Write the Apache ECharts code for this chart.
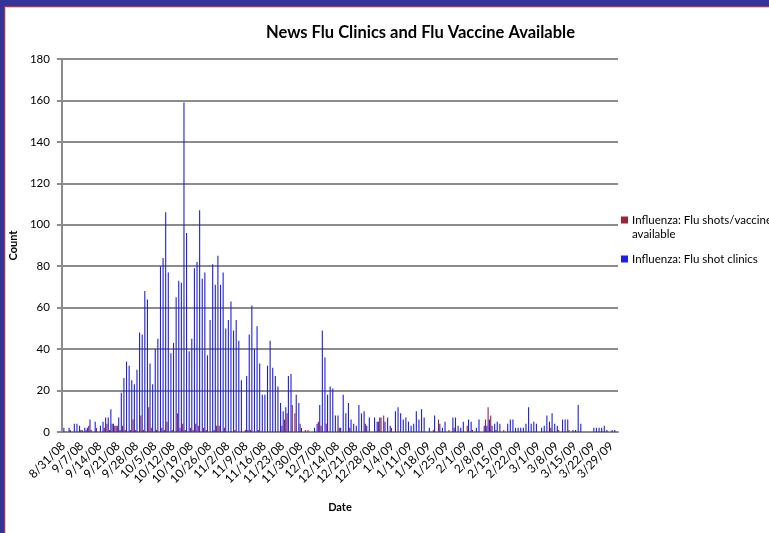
<!DOCTYPE html>
<html>
<head>
<meta charset="utf-8">
<script src="https://cdn.jsdelivr.net/npm/echarts@6/dist/echarts.min.js"></script>
<style>
html, body { margin: 0; padding: 0; background: #fff; }
#main { width: 769px; height: 533px; }
</style>
</head>
<body>
<div id="main"></div>
<script>
// one value per day, 8/31/08 .. 3/31/09, a week per row
var shotsAvailable = [
  0,0,0,1,0,0,0,   1,0,1,3,1,0,2,   0,0,2,4,1,4,3,   3,1,3,1,0,1,6,
  1,0,8,1,0,12,2,  0,1,0,2,1,5,0,   1,0,9,2,4,1,0,   2,1,4,3,0,2,1,
  0,0,1,3,3,0,2,   0,0,0,1,0,0,0,   1,1,1,0,0,1,0,   0,0,0,0,0,0,0,
  3,6,9,0,13,9,0,  4,0,1,1,0,0,0,   5,3,0,4,0,0,0,   0,2,0,0,0,2,0,
  0,0,0,0,4,0,0,   0,0,5,7,8,0,0,   2,0,0,0,0,0,0,   0,0,0,0,0,0,0,
  0,0,1,0,6,0,0,   0,1,0,2,0,0,0,   0,3,0,1,0,0,0,   0,6,12,8,0,1,0,
  0,1,0,0,0,0,0,   0,0,0,0,0,0,0,   0,0,0,0,0,2,0,   0,1,0,0,0,1,0,
  0,0,0,0,0,0,0,   0,0,0,0,0,0,0,   0,0,0
];
var shotClinics = [
  2,0,2,0,4,4,3,        1,2,2,6,0,5,0,        3,5,7,7,11,4,3,       7,19,26,34,32,25,23,
  30,48,47,68,64,33,23, 40,45,80,84,106,77,38, 43,65,73,72,159,96,39, 45,79,82,107,74,77,37,
  54,81,71,85,71,77,50, 54,63,49,54,44,25,0,  27,47,61,40,51,33,18, 18,32,44,31,27,22,14,
  10,12,27,28,0,18,14,  2,0,0,0,0,2,4,        13,49,36,18,22,21,8,  8,2,18,9,14,6,4,
  3,13,9,10,3,7,0,      7,5,7,0,5,7,3,        0,10,12,9,6,7,5,      3,4,10,6,11,7,0,
  2,0,8,0,4,2,5,        0,0,7,7,3,2,5,        0,6,5,0,2,6,0,        3,3,6,3,4,5,4,
  0,0,4,6,6,2,2,        2,2,4,12,4,5,4,       0,2,3,8,5,9,4,        3,0,6,6,6,0,1,
  1,13,4,0,0,0,0,       2,2,2,2,3,1,0,        1,1,0
];
var yTicks = [0, 20, 40, 60, 80, 100, 120, 140, 160, 180];

// daily date labels m/d/yy
var dates = [];
var d = new Date(2008, 7, 31);
for (var i = 0; i < shotClinics.length; i++) {
  dates.push((d.getMonth() + 1) + '/' + d.getDate() + '/' + String(d.getFullYear()).slice(2));
  d.setDate(d.getDate() + 1);
}

var nameRed = 'Influenza: Flu shots/vaccine available';
var nameBlue = 'Influenza: Flu shot clinics';
var font = 'Lato, "Open Sans", sans-serif';

var myChart = echarts.init(document.getElementById('main'));
option = {
  backgroundColor: '#fff',
  animation: false,
  color: ['#9c2339', '#1e1ee8'],
  textStyle: { fontFamily: font },
  title: {
    text: 'News Flu Clinics and Flu Vaccine Available',
    left: 266,
    top: 24,
    padding: 0,
    textStyle: { fontSize: 16.5, fontWeight: 'bold', color: '#000', fontFamily: font }
  },
  legend: {
    orient: 'vertical',
    left: 621,
    top: 214,
    padding: 0,
    itemWidth: 7,
    itemHeight: 7,
    itemGap: 27,
    icon: 'rect',
    data: [nameRed, nameBlue],
    formatter: function (name) {
      return name === nameRed ? 'Influenza: Flu shots/vaccine' : name;
    },
    textStyle: { fontSize: 11.5, color: '#000', fontFamily: font, padding: [0, 0, 0, -1] }
  },
  graphic: [
    { type: 'rect', left: 0, top: 0, shape: { width: 769, height: 6 }, style: { fill: '#333399' } },
    { type: 'rect', left: 0, top: 0, shape: { width: 4, height: 533 }, style: { fill: '#333399' } },
    { type: 'rect', left: 4, top: 6, shape: { width: 765, height: 1 }, style: { fill: '#b8304a' } },
    { type: 'rect', left: 4, top: 6, shape: { width: 1, height: 527 }, style: { fill: '#b8304a' } },
    { type: 'rect', left: 5, top: 7, shape: { width: 764, height: 1 }, style: { fill: '#d0d0d0' } },
    { type: 'rect', left: 5, top: 7, shape: { width: 1, height: 526 }, style: { fill: '#d0d0d0' } },
    { type: 'text', left: 632, top: 228, style: { text: 'available', fontSize: 11.5, fill: '#000', fontFamily: font } }
  ],
  grid: { left: 57, right: 151, top: 59, bottom: 101 },
  xAxis: {
    type: 'category',
    data: dates,
    name: 'Date',
    nameLocation: 'middle',
    nameGap: 70,
    nameTextStyle: { fontSize: 11, fontWeight: 'bold', color: '#000' },
    axisLine: { lineStyle: { color: '#8c8c8c', width: 2 } },
    axisTick: { interval: 6, length: 4, lineStyle: { color: '#8c8c8c', width: 1.5 } },
    axisLabel: { interval: 6, rotate: 45, fontSize: 12, color: '#000', margin: 12 }
  },
  yAxis: {
    type: 'value',
    min: yTicks[0],
    max: yTicks[yTicks.length - 1],
    interval: 20,
    name: 'Count',
    nameLocation: 'middle',
    nameGap: 38,
    nameTextStyle: { fontSize: 11, fontWeight: 'bold', color: '#000' },
    axisLine: { show: true, lineStyle: { color: '#8c8c8c', width: 2 } },
    axisTick: { show: true, length: 5, lineStyle: { color: '#8c8c8c', width: 2 } },
    axisLabel: { fontSize: 11.5, color: '#000', margin: 12 },
    splitLine: { lineStyle: { color: '#8c8c8c', width: 2 } }
  },
  series: [
    { name: nameRed, type: 'bar', data: shotsAvailable, barWidth: 1.1, barGap: '20%' },
    { name: nameBlue, type: 'bar', data: shotClinics, barWidth: 1.1, barGap: '20%' }
  ]
};
myChart.setOption(option);
</script>
</body>
</html>
